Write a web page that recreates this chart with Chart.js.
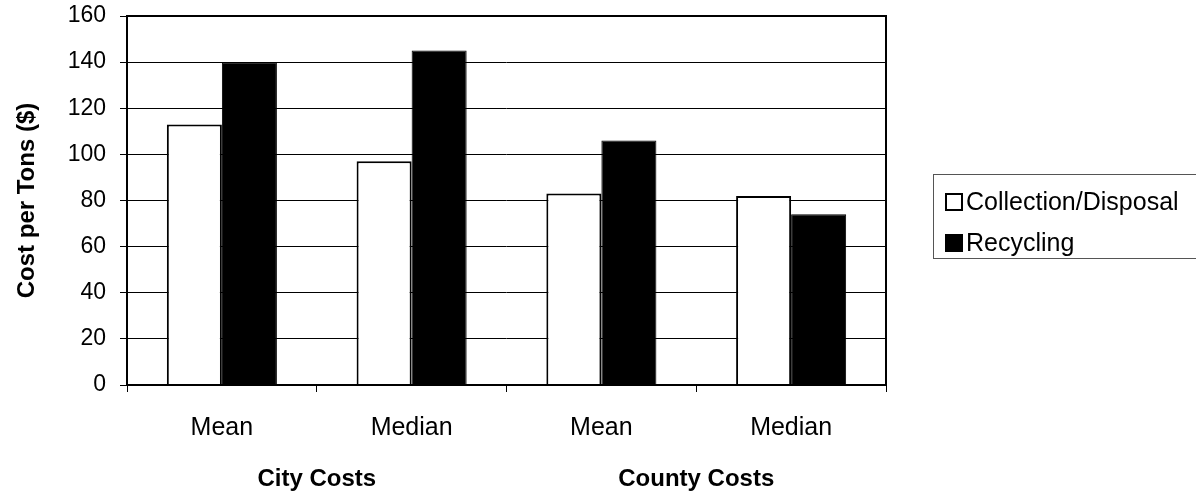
<!DOCTYPE html>
<html>
<head>
<meta charset="utf-8">
<title>Cost per Ton</title>
<script src="https://cdn.jsdelivr.net/npm/chart.js@4"></script>
<style>
  body { margin: 0; background: #fff; }
  #wrap { width: 1196px; height: 495px; position: relative; }
</style>
</head>
<body>
<div id="wrap"><canvas id="costChart"></canvas></div>
<script>
// chart data
var categories = ['Mean', 'Median', 'Mean', 'Median'];
var groups = ['City Costs', 'County Costs'];
var collectionCost = [113, 97, 83, 82];
var recyclingCost = [140, 145, 106, 74];
var yTicks = [0, 20, 40, 60, 80, 100, 120, 140, 160];

var FONT = 'Liberation Sans, Arial, sans-serif';

// box around the plot area
var plotBox = {
    id: 'plotBox',
    afterDraw: function(chart) {
        var a = chart.chartArea;
        var ctx = chart.ctx;
        ctx.save();
        ctx.strokeStyle = '#000';
        ctx.lineWidth = 2;
        ctx.strokeRect(a.left, a.top, a.right - a.left, a.bottom - a.top);
        ctx.restore();
    }
};

// legend drawn as a framed box on the right
var boxLegend = {
    id: 'boxLegend',
    afterDraw: function(chart) {
        var ctx = chart.ctx;
        var x = 933, y = 174, w = 280, h = 84;
        ctx.save();
        ctx.strokeStyle = '#555';
        ctx.lineWidth = 1;
        ctx.strokeRect(x + 0.5, y + 0.5, w, h);
        ctx.font = '25px ' + FONT;
        ctx.textBaseline = 'middle';
        chart.data.datasets.forEach(function(ds, i) {
            var cy = 203 + i * 41;
            ctx.fillStyle = ds.backgroundColor;
            ctx.fillRect(946, cy - 9, 16, 16);
            ctx.strokeStyle = '#000';
            ctx.lineWidth = 2;
            ctx.strokeRect(946, cy - 9, 16, 16);
            ctx.fillStyle = '#000';
            ctx.fillText(ds.label, 966, cy);
        });
        ctx.restore();
    }
};

var ctx = document.getElementById('costChart');
var costChart = new Chart(ctx, {
    type: 'bar',
    data: {
        labels: categories,
        datasets: [{
            label: 'Collection/Disposal',
            data: collectionCost,
            backgroundColor: '#ffffff',
            borderColor: '#000',
            borderWidth: 2,
            borderSkipped: 'bottom'
        }, {
            label: 'Recycling',
            data: recyclingCost,
            backgroundColor: '#000000',
            borderColor: '#000',
            borderWidth: 1,
            borderSkipped: 'bottom'
        }]
    },
    plugins: [plotBox, boxLegend],
    options: {
        responsive: true,
        maintainAspectRatio: false,
        animation: false,
        layout: { padding: { left: 0, right: 310, top: 16, bottom: 0 } },
        datasets: { bar: { categoryPercentage: 0.58, barPercentage: 1.0 } },
        plugins: {
            legend: { display: false },
            tooltip: { enabled: false }
        },
        scales: {
            x: {
                type: 'category',
                offset: true,
                grid: { offset: true, drawOnChartArea: false, drawTicks: true, tickLength: 7, color: '#000' },
                border: { display: false },
                ticks: { color: '#000', font: { family: FONT, size: 25 }, padding: 21, maxRotation: 0 },
                afterFit: function(s) { s.height = 58; s.paddingLeft = 0; s.paddingRight = 0; }
            },
            x2: {
                type: 'category',
                labels: groups,
                position: 'bottom',
                offset: true,
                grid: { display: false, drawTicks: false },
                border: { display: false },
                ticks: { color: '#000', font: { family: FONT, size: 24, weight: 'bold' }, padding: 22, maxRotation: 0 },
                afterFit: function(s) { s.height = 52; s.paddingLeft = 0; s.paddingRight = 0; }
            },
            y: {
                min: 0,
                max: 160,
                afterBuildTicks: function(s) {
                    s.ticks = yTicks.map(function(v) { return { value: v }; });
                },
                grid: { color: '#000', lineWidth: 1, tickLength: 7 },
                border: { display: false },
                ticks: { color: '#000', font: { family: FONT, size: 23 }, padding: 14 },
                title: {
                    display: true,
                    text: 'Cost per Tons ($)',
                    color: '#000',
                    font: { family: FONT, size: 24, weight: 'bold' },
                    padding: { top: 13, bottom: 0 }
                },
                afterFit: function(s) { s.width = 127; s.paddingTop = 0; s.paddingBottom = 0; }
            }
        }
    }
});
</script>
</body>
</html>
